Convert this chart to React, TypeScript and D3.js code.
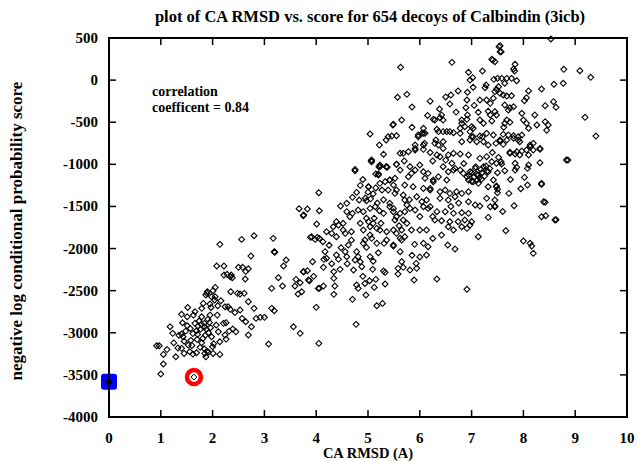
import React, { useEffect, useRef } from "react"
import * as d3 from "d3"

// CA RMSD (A) vs. negative log conditional probability score
const xTicks = [0, 1, 2, 3, 4, 5, 6, 7, 8, 9, 10]
const yTicks = [500, 0, -500, -1000, -1500, -2000, -2500, -3000, -3500, -4000]
const noteLines = ["correlation", "coefficent = 0.84"]

const lowCluster: [number, number][] = [
  [0.92, -3154], [0.97, -3154], [1.05, -3257], [1.05, -3371], [1.0, -3490], [1.18, -2928], [1.23, -3007],
  [1.29, -3285], [1.40, -2781], [1.42, -2881], [1.40, -3015], [1.43, -3047], [1.40, -3185], [1.45, -3245],
  [1.51, -2810], [1.51, -2917], [1.53, -3146], [1.56, -3225], [1.62, -3253], [1.63, -2790], [1.66, -2888],
  [1.69, -2976], [1.71, -3019], [1.69, -3237], [1.76, -3173], [1.79, -2710], [1.82, -2651], [1.79, -2810],
  [1.84, -2888], [1.85, -2929], [1.81, -3067], [1.79, -3119], [1.85, -3245], [1.87, -3285], [1.87, -2552],
  [1.90, -2513], [1.95, -2659], [1.95, -2790], [1.94, -2877], [1.98, -3047], [2.00, -3166], [2.01, -3245],
  [2.05, -2461], [2.05, -2572], [2.07, -2908], [2.09, -2790], [2.11, -2988], [2.14, -3107], [2.14, -3257],
  [2.21, -2888], [2.24, -2691], [2.24, -3027], [2.26, -3075], [2.30, -2691], [2.34, -2722], [2.35, -2512],
  [2.39, -2956], [2.45, -2988], [2.50, -2223], [2.53, -2730], [2.58, -2223], [2.61, -2532], [2.64, -2271],
  [2.64, -2869], [2.69, -2631], [2.69, -3027], [2.75, -2929], [2.74, -2089], [2.80, -2710], [2.80, -1848],
  [2.84, -2829], [2.92, -2817], [3.0, -2817], [3.08, -3134], [3.14, -2473], [3.14, -2710], [3.19, -2738],
  [3.17, -1879], [3.19, -2037], [3.27, -2346], [3.35, -2445], [3.37, -2208], [3.42, -2136], [2.14, -1950],
  [2.56, -1891], [2.08, -2208], [2.22, -2208], [2.28, -2306], [2.34, -2334], [2.48, -2532], [2.53, -2540],
  [2.22, -2315], [2.36, -2315], [2.38, -2346], [2.01, -2500], [1.89, -2532], [1.98, -2572], [2.63, -2362],
  [1.74, -2860], [1.78, -2900], [1.88, -2960], [1.92, -3000], [1.70, -3080], [1.62, -3010], [1.57, -2950],
  [1.96, -2940], [2.02, -3130], [1.66, -2750], [1.58, -3090], [1.48, -2980], [1.35, -3030], [1.33, -3180],
  [1.45, -3100], [1.84, -3190], [1.89, -3220], [1.91, -2840], [2.10, -2680], [2.16, -2620], [2.04, -2610],
  [1.97, -2700], [2.26, -2880], [2.32, -2980], [1.92, -3230], [1.76, -2960], [1.72, -2920], [1.86, -3030],
  [1.60, -3150], [1.12, -3200], [1.25, -3120], [1.52, -2700], [2.43, -2760], [2.57, -2830], [2.69, -2240],
]

const midBand: [number, number][] = [
  [4.75, -1076], [5.07, -969], [5.23, -1028], [5.36, -1028], [5.15, -1115], [5.20, -1127], [4.05, -1337],
  [3.67, -1527], [3.83, -1531], [3.75, -1610], [4.06, -1551], [4.01, -1709], [4.47, -1495], [4.59, -1463],
  [4.70, -1392], [4.78, -1333], [4.83, -1424], [4.97, -1432], [5.01, -1266], [4.59, -1562], [4.70, -1582],
  [4.65, -1622], [4.81, -1543], [4.91, -1562], [5.04, -1523], [5.14, -1503], [5.22, -1551], [5.30, -1582],
  [5.42, -1463], [5.49, -1523], [4.39, -1681], [4.43, -1721], [4.33, -1741], [4.30, -1820], [4.39, -1859],
  [4.52, -1780], [4.56, -1820], [4.68, -1800], [4.97, -1641], [5.01, -1681], [5.04, -1741], [5.10, -1701],
  [5.17, -1760], [4.91, -1780], [4.94, -1899], [5.04, -1840], [5.07, -1879], [5.23, -1780], [5.36, -1800],
  [5.17, -1938], [5.31, -1938], [5.36, -1899], [5.49, -1958], [3.91, -1859], [3.98, -1891], [4.06, -1879],
  [4.13, -1919], [3.89, -1867], [4.02, -1867], [3.93, -2156], [3.20, -2045], [4.17, -2037], [4.20, -2116],
  [4.15, -2128], [4.39, -2077], [4.43, -2128], [4.62, -1958], [4.56, -2037], [4.59, -2097], [4.78, -2037],
  [4.81, -2097], [4.85, -2156], [4.91, -1938], [4.97, -1986], [5.04, -2097], [4.75, -2136], [4.88, -2215],
  [4.14, -2223], [4.46, -2247], [4.72, -2255], [5.09, -2247], [5.30, -2267], [5.33, -2283], [3.75, -2275],
  [3.83, -2263], [3.87, -2382], [3.61, -2366], [3.69, -2406], [3.59, -2445], [3.65, -2540], [3.72, -2513],
  [4.06, -2473], [4.14, -2445], [4.34, -2275], [4.34, -2354], [4.36, -2445], [4.34, -2544], [4.70, -2603],
  [4.78, -2433], [4.81, -2473], [4.94, -2414], [5.03, -2382], [4.96, -2552], [5.12, -2461], [5.15, -2366],
  [5.33, -2421], [5.17, -2679], [5.28, -2651], [4.0, -2698], [4.77, -2900], [3.56, -2929], [3.69, -3007],
  [4.05, -3126], [3.76, -2275], [3.85, -2374], [3.76, -1602], [4.04, -2473], [4.52, -1700], [4.25, -1960],
  [4.48, -1990], [4.68, -1900], [4.85, -1700], [4.20, -1800], [5.12, -1640], [5.25, -1700], [4.6, -2180],
  [4.9, -2330], [5.1, -2150], [5.2, -2050], [4.3, -2180], [3.95, -2330],
  [5.04, -640], [5.22, -771], [5.35, -711], [5.39, -672], [5.46, -664], [5.48, -533], [5.07, -949],
  [5.23, -1008], [5.35, -1028], [4.75, -1060], [5.06, -961], [5.21, -1028], [5.37, -1036], [5.55, -1000],
  [5.20, -1115], [5.01, -1266], [5.23, -1226], [5.33, -1206], [5.42, -1186], [5.52, -1166], [5.27, -1305],
  [5.39, -1305], [4.9, -1180], [5.0, -1330], [4.95, -1400], [5.1, -1350], [5.15, -1280], [4.85, -1250],
  [5.3, -1420], [5.18, -1460], [5.05, -1410],
]

const upperBand: [number, number][] = [
  [5.55, -660], [5.97, -652], [6.07, -632], [6.36, -612], [6.52, -612], [6.65, -624], [6.78, -632],
  [7.03, -672], [7.16, -664], [7.29, -632], [7.42, -652], [5.91, -771], [6.09, -751], [6.31, -711],
  [6.45, -731], [6.81, -731], [6.97, -711], [7.23, -731], [7.32, -771], [7.47, -751], [5.62, -869],
  [5.78, -850], [5.91, -830], [6.07, -822], [6.33, -889], [6.39, -909], [6.55, -889], [6.65, -869],
  [6.78, -877], [6.94, -889], [7.16, -929], [7.29, -909], [7.39, -969], [7.48, -988], [5.55, -1000],
  [5.81, -1028], [5.91, -1068], [6.0, -1008], [6.07, -1088], [5.78, -1147], [5.84, -1107], [6.16, -1107],
  [6.26, -1186], [6.45, -1028], [6.55, -1088], [6.62, -988], [6.68, -1048], [6.78, -1068], [6.84, -1107],
  [6.91, -1147], [6.97, -1088], [7.07, -1048], [7.13, -1127], [7.23, -1028], [7.32, -1088], [6.94, -1186],
  [7.03, -1206], [7.13, -1226], [7.19, -1178], [7.32, -1266], [7.42, -1186], [7.48, -1266], [5.42, -1186],
  [5.49, -1246], [5.55, -1305], [5.52, -1345], [5.71, -1246], [5.87, -1266], [6.07, -1286], [6.20, -1305],
  [6.39, -1325], [6.49, -1305], [6.58, -1345], [6.71, -1325], [6.81, -1345], [6.94, -1325], [6.39, -1404],
  [6.55, -1424], [6.68, -1384], [5.68, -1364], [5.71, -1424], [5.75, -1483], [5.94, -1384], [6.04, -1444],
  [6.13, -1424], [6.20, -1503], [6.94, -1444], [7.07, -1483], [7.16, -1495], [7.29, -1404], [7.36, -1503],
  [7.45, -1495], [5.42, -1503], [5.49, -1562], [5.55, -1622], [5.52, -1661], [5.62, -1582], [5.71, -1562],
  [5.68, -1661], [5.81, -1523], [5.91, -1543], [6.07, -1503], [6.16, -1523], [6.33, -1562], [6.49, -1562],
  [6.65, -1582], [6.81, -1574], [6.94, -1582], [6.29, -1661], [6.42, -1669], [6.58, -1681], [6.74, -1681],
  [6.87, -1661], [7.0, -1681], [6.55, -1741], [6.65, -1780], [6.81, -1741], [6.97, -1721], [6.91, -1760],
  [7.32, -1630], [7.13, -1859], [5.49, -1780], [5.55, -1820], [5.65, -1780], [5.71, -1859], [5.84, -1780],
  [6.0, -1780], [6.13, -1780], [5.62, -1879], [5.65, -1899], [6.42, -1840], [5.49, -1970], [6.07, -1938],
  [6.16, -1978], [6.54, -1958], [6.68, -2006], [5.62, -2037], [6.13, -2077], [5.65, -2156], [5.58, -2235],
  [5.68, -2223], [5.81, -2255], [5.94, -2235], [5.93, -2176], [5.58, -2303], [5.89, -2374], [6.33, -2362],
  [6.91, -2484], [5.63, 152], [6.62, 211], [5.57, -204], [5.75, -169], [6.60, -177], [6.74, -129],
  [6.58, -284], [6.94, 93], [6.97, 1], [7.02, 29], [7.03, -85], [7.21, 108], [7.28, -58], [7.26, -90],
  [7.39, 247], [7.43, 9], [7.50, 21], [7.53, 397], [7.55, 337], [6.92, -145], [6.91, -236], [6.89, -328],
  [6.92, -414], [6.38, -343], [6.42, -414], [6.39, -446], [6.29, -474], [5.49, -525], [5.65, -474],
  [6.07, -572], [6.04, -632], [6.78, -572], [6.81, -513], [6.87, -553], [7.13, -382], [7.16, -474],
  [7.23, -513], [7.36, -414], [7.39, -485], [7.32, -370], [7.16, -236], [7.29, -236], [7.36, -276],
  [7.42, -216], [7.48, -109], [6.33, -584], [6.45, -612], [6.58, -612], [6.97, -612], [7.03, -572],
  [6.26, -466], [6.45, -474], [6.81, -474], [6.91, -466], [7.0, -553], [5.97, -672], [6.10, -632],
  [6.07, -771], [5.91, -811], [5.68, -869], [5.62, -1068], [6.29, -751], [6.36, -771], [6.45, -811],
  [7.0, -672], [7.10, -731], [7.21, -672], [6.10, -1166], [6.20, -1286], [6.26, -1206], [6.36, -1147],
  [6.52, -1186], [6.65, -1068], [7.0, -1100], [7.05, -1150], [7.1, -1120], [7.15, -1160], [7.2, -1100],
  [7.25, -1140], [7.3, -1080], [7.1, -1190], [7.0, -1200], [6.95, -1130], [7.35, -1050], [7.28, -1020],
  [7.18, -1060], [7.08, -1030], [5.75, -1700], [5.6, -1730], [5.8, -1420], [6.25, -1620], [6.0, -1620],
  [5.9, -1950], [6.25, -1880], [6.0, -2100], [5.85, -2080], [6.6, -1500], [6.75, -1460], [6.25, -960],
  [6.5, -950], [6.85, -990], [7.4, -860], [6.2, -860], [5.85, -560], [6.15, -420], [6.7, -380],
  [6.5, -200], [7.05, -300], [6.2, -250], [5.85, -320], [5.3, -880], [5.7, -960],
]

const rightTail: [number, number][] = [
  [7.55, 409], [7.57, 337], [8.53, 488], [7.45, 219], [7.84, 188], [7.81, 132], [7.83, 108], [8.78, 128],
  [9.09, 112], [9.30, 33], [7.58, 21], [7.68, 21], [7.77, 21], [7.87, -7], [7.64, -38], [7.52, -78],
  [7.45, -137], [7.55, -157], [7.61, -177], [7.68, -189], [7.77, -185], [8.10, -129], [8.06, -209],
  [8.02, -244], [8.35, -106], [8.59, -50], [8.77, -38], [8.58, -256], [8.63, -323], [8.42, -304],
  [8.22, -414], [8.26, -533], [8.42, -494], [8.48, -533], [8.45, -596], [9.19, -442], [9.40, -664],
  [7.64, -296], [7.71, -355], [7.74, -328], [7.81, -316], [7.45, -375], [7.48, -414], [7.97, -394],
  [8.0, -474], [8.06, -513], [8.10, -572], [7.68, -474], [7.64, -513], [7.74, -501], [7.61, -644],
  [7.71, -652], [7.81, -660], [7.90, -672], [7.97, -652], [7.55, -723], [7.61, -763], [7.93, -731],
  [8.19, -751], [8.13, -791], [8.32, -822], [7.74, -857], [7.87, -850], [7.97, -842], [8.06, -830],
  [7.74, -869], [7.84, -877], [7.93, -889], [8.10, -889], [7.52, -917], [7.57, -969], [7.58, -996],
  [7.84, -988], [7.87, -1036], [7.84, -1068], [8.10, -1008], [8.08, -1048], [8.32, -981], [8.86, -949],
  [7.50, -1100], [7.64, -1076], [8.02, -1155], [8.08, -1246], [8.35, -1238], [7.48, -1258], [7.50, -1297],
  [7.50, -1337], [7.72, -1345], [7.45, -1424], [7.45, -1503], [7.82, -1491], [8.42, -1451], [8.35, -1622],
  [8.43, -1610], [8.63, -1657], [7.66, -1788], [8.0, -1911], [8.16, -1970], [8.19, -2057], [7.55, -711],
  [7.68, -711], [7.81, -691], [7.90, -711], [8.13, -771], [8.19, -830], [8.32, -811], [8.35, -1226],
  [8.83, -949], [8.39, -1444], [8.61, -1661], [8.13, -1938], [7.41, 239], [7.62, -560], [7.75, -1180],
  [7.95, -1290], [7.6, -1560],
]

// native structure (blue square) and best decoy (red ring)
const nativePoint: [number, number] = [0, -3580]
const bestDecoy: [number, number] = [1.64, -3526]

const W = 637
const H = 461
const left = 109
const right = 627
const top = 38
const bottom = 417
const font = "'Liberation Serif', 'Times New Roman', serif"

export default function App() {
  const ref = useRef<SVGSVGElement>(null)

  useEffect(() => {
    const svg = d3.select(ref.current)
    svg.selectAll("*").remove()

    const x = d3.scaleLinear().domain([0, 10]).range([left, right])
    const y = d3.scaleLinear().domain([-4000, 500]).range([bottom, top])

    const allPoints = [...lowCluster, ...midBand, ...upperBand, ...rightTail]

    // ticks, inward on all four sides
    const ticks = svg.append("g").attr("stroke", "#000").attr("stroke-width", 1.5)
    xTicks.slice(1, -1).forEach(t => {
      ticks.append("line").attr("x1", x(t)).attr("x2", x(t)).attr("y1", bottom).attr("y2", bottom - 7)
      ticks.append("line").attr("x1", x(t)).attr("x2", x(t)).attr("y1", top).attr("y2", top + 7)
    })
    yTicks.slice(1, -1).forEach(t => {
      ticks.append("line").attr("x1", left).attr("x2", left + 7).attr("y1", y(t)).attr("y2", y(t))
      ticks.append("line").attr("x1", right).attr("x2", right - 7).attr("y1", y(t)).attr("y2", y(t))
    })

    svg
      .append("g")
      .selectAll("text")
      .data(xTicks)
      .enter()
      .append("text")
      .attr("x", d => x(d))
      .attr("y", 443)
      .attr("text-anchor", "middle")
      .attr("font-family", font)
      .attr("font-weight", "bold")
      .attr("font-size", 15)
      .text(d => d)

    svg
      .append("g")
      .selectAll("text")
      .data(yTicks)
      .enter()
      .append("text")
      .attr("x", 98)
      .attr("y", d => y(d) + 5)
      .attr("text-anchor", "end")
      .attr("font-family", font)
      .attr("font-weight", "bold")
      .attr("font-size", 15)
      .text(d => d)

    // blue native marker drawn under the frame
    svg
      .append("rect")
      .attr("x", x(nativePoint[0]) - 8)
      .attr("y", y(nativePoint[1]) - 8)
      .attr("width", 16)
      .attr("height", 16)
      .attr("rx", 3)
      .attr("fill", "#0000ff")

    const diamond = d3.symbol().type(d3.symbolDiamond2).size(22)

    svg
      .append("g")
      .selectAll("path")
      .data(allPoints)
      .enter()
      .append("path")
      .attr("d", diamond)
      .attr("transform", d => `translate(${x(d[0])},${y(d[1])})`)
      .attr("fill", "none")
      .attr("stroke", "#000")
      .attr("stroke-width", 1.1)

    svg
      .append("circle")
      .attr("cx", x(bestDecoy[0]))
      .attr("cy", y(bestDecoy[1]))
      .attr("r", 7)
      .attr("fill", "#fff")
      .attr("stroke", "#ff0000")
      .attr("stroke-width", 4.5)

    svg
      .append("path")
      .attr("d", diamond)
      .attr("transform", `translate(${x(bestDecoy[0])},${y(bestDecoy[1])})`)
      .attr("fill", "none")
      .attr("stroke", "#000")

    svg
      .append("rect")
      .attr("x", left)
      .attr("y", top)
      .attr("width", right - left)
      .attr("height", bottom - top)
      .attr("fill", "none")
      .attr("stroke", "#000")
      .attr("stroke-width", 2)

    svg
      .append("path")
      .attr("d", diamond)
      .attr("transform", `translate(${x(nativePoint[0])},${y(nativePoint[1])})`)
      .attr("fill", "none")
      .attr("stroke", "#000")
      .attr("stroke-width", 1.5)

    const label = (txt: string, px: number, py: number, size: number, anchor = "middle") =>
      svg
        .append("text")
        .attr("x", px)
        .attr("y", py)
        .attr("text-anchor", anchor)
        .attr("font-family", font)
        .attr("font-weight", "bold")
        .attr("font-size", size)
        .text(txt)

    label("plot of CA RMSD vs. score for 654 decoys of Calbindin (3icb)", 370, 22, 16.5)
    label("CA RMSD (A)", 368, 458, 14.5)
    label("negative log conditional probability score", 0, 0, 17)
      .attr("transform", `translate(22,231) rotate(-90)`)

    // two-line correlation note
    svg
      .append("g")
      .selectAll("text")
      .data(noteLines)
      .enter()
      .append("text")
      .attr("x", 152)
      .attr("y", (d, i) => 96 + i * 16)
      .attr("font-family", font)
      .attr("font-weight", "bold")
      .attr("font-size", 14)
      .text(d => d)
  }, [])

  return (
    <svg
      ref={ref}
      width={W}
      height={H}
      style={{ position: "absolute", left: 0, top: 0, background: "#fff" }}
    />
  )
}
